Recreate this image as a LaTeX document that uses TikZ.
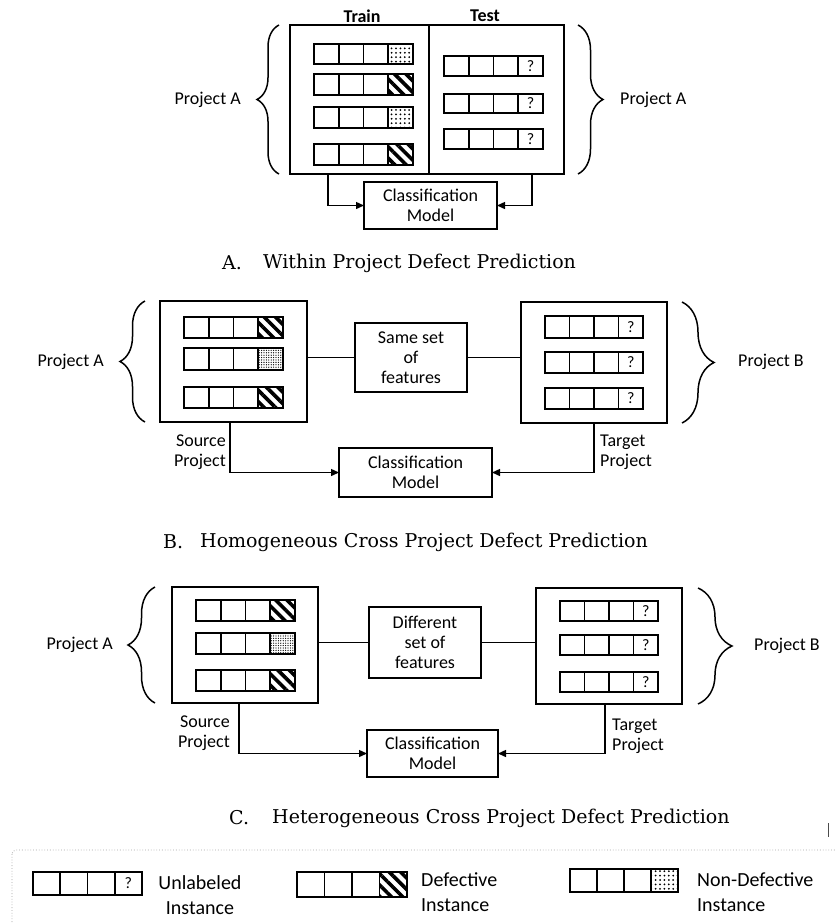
\documentclass[tikz,border=0pt]{standalone}
\usepackage{fontspec}
\setmainfont{DejaVu Serif}
\newfontfamily\labelfont{Carlito}
\usetikzlibrary{arrows.meta,patterns.meta,decorations.pathreplacing,calc}

\tikzset{
  box/.style={draw, line width=1.8pt, inner sep=0pt, outer sep=0pt},
  rowbox/.style={draw, line width=1.6pt, inner sep=0pt, outer sep=0pt},
  defect/.style={pattern={Lines[angle=-45,distance=8pt,line width=3.6pt]}},
  nondefect/.style={pattern={Dots[distance=4.4pt,radius=1pt]}},
  nondefectfine/.style={pattern={Dots[distance=2.4pt,radius=0.65pt]}},
  unlabeled/.style={},
  qmark/.style={font=\labelfont\fontsize{16}{16}\selectfont, inner sep=0pt},
  lbl/.style={font=\labelfont\fontsize{18}{20}\selectfont, inner sep=0pt},
  hdr/.style={font=\labelfont\bfseries\fontsize{18}{20}\selectfont, inner sep=0pt},
  legtext/.style={font=\labelfont\fontsize{20}{25}\selectfont, inner sep=0pt},
  captext/.style={font=\fontsize{19}{22}\selectfont, inner sep=0pt, anchor=west},
  conn/.style={line width=1.4pt},
  arr/.style={conn, -{Triangle[length=8pt,width=7pt]}},
  curly/.style={decorate, line width=1.5pt, decoration={brace, amplitude=#1}},
}

% one instance: four cells, the last one marked
% #1 name, #2 left, #3 top, #4 right, #5 bottom, #6 fill of last cell, #7 mark
\newcommand\instrow[7]{%
  \pgfmathsetmacro\rowW{#4-#2}%
  \pgfmathsetmacro\rowH{#5-#3}%
  \path[#6] ({#2+0.75*\rowW},#3) rectangle (#4,#5);
  \node[rowbox, minimum width=\rowW pt, minimum height=\rowH pt] (#1) at ({(#2+#4)/2},{(#3+#5)/2}) {};
  \foreach \f in {0.25,0.5,0.75}
    \draw[line width=1.6pt] ($(#1.north west)!\f!(#1.north east)$) -- ($(#1.south west)!\f!(#1.south east)$);
  \if\relax\detokenize{#7}\relax\else
    \node[qmark] (#1q) at ($(#1.west)!0.875!(#1.east)$) {#7};
  \fi
}

\begin{document}
\begin{tikzpicture}[x=1pt, y=-1pt]
\fill[white] (0,0) rectangle (835,924);
\useasboundingbox (0,0) rectangle (835,924);

% ---------- A: within project ----------
\node[box, minimum width=139pt, minimum height=149pt] (trainA) at (359.5,99.5) {};
\node[box, minimum width=135pt, minimum height=149pt] (testA) at (496.5,99.5) {};
\node[hdr] (trainHdr) at (362,16) {Train};
\node[hdr] (testHdr) at (485,16) {Test};
\instrow{aL1}{314}{44}{413}{64}{nondefect}{}
\instrow{aL2}{314}{74}{413}{95}{defect}{}
\instrow{aL3}{314}{107}{413}{128}{nondefect}{}
\instrow{aL4}{314}{144}{413}{165}{defect}{}
\instrow{aR1}{444}{56}{543}{76}{unlabeled}{?}
\instrow{aR2}{444}{94}{543}{113}{unlabeled}{?}
\instrow{aR3}{444}{129}{543}{149}{unlabeled}{?}
\node[box, lbl, align=center, minimum width=133pt, minimum height=47pt] (modelA) at (430.5,205.5) {Classification\\Model};
\draw[arr] ([xshift=-31.5pt]trainA.south) |- (modelA.west);
\draw[arr] ([xshift=35.5pt]testA.south) |- (modelA.east);
\draw[curly=22] ([xshift=-11pt]trainA.south west) -- ([xshift=-11pt]trainA.north west);
\draw[curly=25] ([xshift=14pt]testA.north east) -- ([xshift=14pt]testA.south east);
\node[lbl, anchor=east] (projAl) at (241,100) {Project A};
\node[lbl, anchor=west] (projAr) at (620,100) {Project A};
\node[captext] (capAl) at (222,263) {A.};
\node[captext] (capA) at (263,263) {Within Project Defect Prediction};

% ---------- B: homogeneous cross project ----------
\node[box, minimum width=147pt, minimum height=121pt] (srcB) at (233.5,361.5) {};
\node[box, lbl, align=center, minimum width=112pt, minimum height=69pt] (midB) at (411,357.5) {Same set\\of\\features};
\node[box, minimum width=146pt, minimum height=121pt] (tgtB) at (594,362.5) {};
\node[box, lbl, align=center, minimum width=153pt, minimum height=49pt] (modelB) at (415.5,472.5) {Classification\\Model};
\instrow{bL1}{184}{317}{283}{338}{defect}{}
\instrow{bL2}{184}{348}{283}{370}{nondefectfine}{}
\instrow{bL3}{184}{387}{283}{408}{defect}{}
\instrow{bR1}{545}{316}{643}{338}{unlabeled}{?}
\instrow{bR2}{545}{352}{643}{373}{unlabeled}{?}
\instrow{bR3}{545}{388}{643}{409}{unlabeled}{?}
\draw[conn] (midB.west -| srcB.east) -- (midB.west);
\draw[conn] (midB.east) -- (midB.east -| tgtB.west);
\draw[arr] ([xshift=-3.5pt]srcB.south) |- (modelB.west);
\draw[arr] (tgtB.south) |- (modelB.east);
\node[lbl, align=right, anchor=east] (srcBt) at (226,452) {Source\\Project};
\node[lbl, align=left, anchor=west] (tgtBt) at (600,452) {Target\\Project};
\draw[curly=25] ([xshift=-15pt]srcB.south west) -- ([xshift=-15pt]srcB.north west);
\draw[curly=32] ([xshift=15pt]tgtB.north east) -- ([xshift=15pt]tgtB.south east);
\node[lbl, anchor=east] (projBl) at (104,362) {Project A};
\node[lbl, anchor=west] (projBr) at (738,362) {Project B};
\node[captext] (capBl) at (163,542) {B.};
\node[captext] (capB) at (200,542) {Homogeneous Cross Project Defect Prediction};

% ---------- C: heterogeneous cross project ----------
\node[box, minimum width=146pt, minimum height=116pt] (srcC) at (245,645) {};
\node[box, lbl, align=center, minimum width=112pt, minimum height=71pt] (midC) at (425,642.5) {Different\\set of\\features};
\node[box, minimum width=146pt, minimum height=116pt] (tgtC) at (609,646) {};
\node[box, lbl, align=center, minimum width=131pt, minimum height=47pt] (modelC) at (432.5,753.5) {Classification\\Model};
\instrow{cL1}{196}{600}{295}{621}{defect}{}
\instrow{cL2}{196}{633}{295}{654}{nondefectfine}{}
\instrow{cL3}{196}{670}{295}{691}{defect}{}
\instrow{cR1}{560}{601}{658}{621}{unlabeled}{?}
\instrow{cR2}{560}{635}{658}{655}{unlabeled}{?}
\instrow{cR3}{560}{672}{658}{692}{unlabeled}{?}
\draw[conn] (midC.west -| srcC.east) -- (midC.west);
\draw[conn] (midC.east) -- (midC.east -| tgtC.west);
\draw[arr] ([xshift=-6pt]srcC.south) |- (modelC.west);
\draw[arr] ([xshift=-4pt]tgtC.south) |- (modelC.east);
\node[lbl, align=right, anchor=east] (srcCt) at (230,733.5) {Source\\Project};
\node[lbl, align=left, anchor=west] (tgtCt) at (612,736) {Target\\Project};
\draw[curly=27] ([xshift=-17pt]srcC.south west) -- ([xshift=-17pt]srcC.north west);
\draw[curly=34] ([xshift=16pt]tgtC.north east) -- ([xshift=16pt]tgtC.south east);
\node[lbl, anchor=east] (projCl) at (113,645) {Project A};
\node[lbl, anchor=west] (projCr) at (754,646) {Project B};
\node[captext] (capCl) at (229,818) {C.};
\node[captext] (capC) at (272,818) {Heterogeneous Cross Project Defect Prediction};
\draw[line width=1pt, black!70] (828,823) -- (828,837);

% ---------- legend ----------
\begin{scope}
  \clip (0,0) rectangle (835,924);
  \draw[black!35, dotted, line width=0.8pt, rounded corners=4pt] (12,850) rectangle (860,960);
\end{scope}
\instrow{legU}{33}{872}{142}{895}{unlabeled}{?}
\node[legtext, align=center] (legUt) at (200,895) {Unlabeled\\Instance};
\instrow{legD}{297}{872}{407}{897}{defect}{}
\node[legtext, align=left, anchor=west] (legDt) at (421,892) {Defective\\Instance};
\instrow{legN}{570}{869}{678}{892}{nondefect}{}
\node[legtext, align=left, anchor=west] (legNt) at (697,892) {Non-Defective\\Instance};
\end{tikzpicture}
\end{document}
